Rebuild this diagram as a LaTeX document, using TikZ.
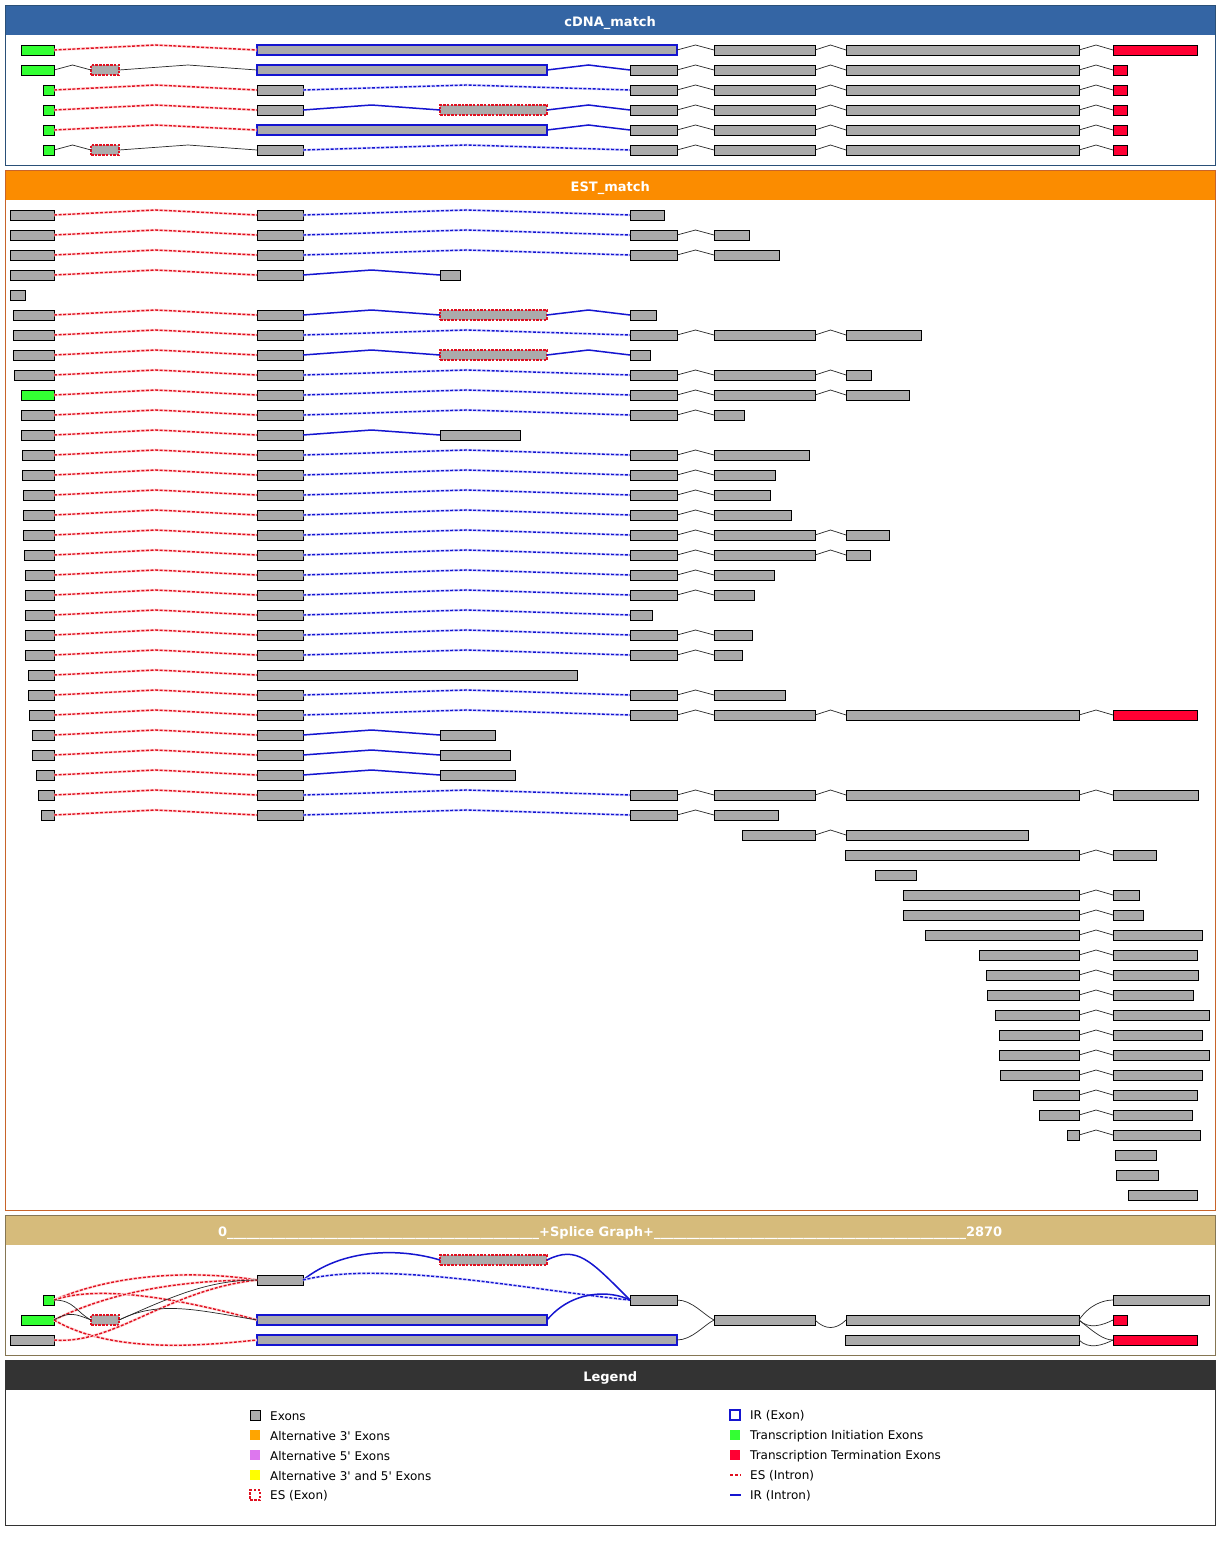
\documentclass[tikz,border=0pt]{standalone}
\usepackage{fontspec}
\setmainfont{DejaVu Sans}
\usetikzlibrary{calc}
\definecolor{exgray}{HTML}{ABABAB}
\definecolor{tigreen}{HTML}{33FF33}
\definecolor{ttred}{HTML}{FF0033}
\definecolor{irblue}{HTML}{1515D0}
\definecolor{esred}{HTML}{E01020}
\definecolor{cdnahd}{HTML}{3465A4}
\definecolor{cdnabd}{HTML}{2A5078}
\definecolor{esthd}{HTML}{FB8C00}
\definecolor{estbd}{HTML}{C8642A}
\definecolor{sghd}{HTML}{D6BB7B}
\definecolor{sgbd}{HTML}{857654}
\definecolor{lghd}{HTML}{333333}
\definecolor{altthree}{HTML}{FFA500}
\definecolor{altfive}{HTML}{DD77EE}
\definecolor{altboth}{HTML}{FFFF00}
\tikzset{
  exon/.style={rectangle, draw=black, fill=exgray, line width=0.9pt, inner sep=0pt, outer sep=0pt, minimum height=10pt, anchor=west},
  tie/.style={fill=tigreen},
  tte/.style={fill=ttred},
  irx/.style={draw=irblue, line width=1.6pt},
  esx/.style={draw=esred, line width=1.2pt, dash pattern=on 2.5pt off 1.2pt},
  esi/.style={draw=esred, line width=1.4pt, dash pattern=on 3pt off 1.6pt, preaction={draw=red!14, line width=2.6pt, solid}},
  ird/.style={draw=irblue, line width=1.4pt, dash pattern=on 3pt off 1.6pt, preaction={draw=blue!12, line width=2.6pt, solid}},
  iri/.style={draw=irblue, line width=1.5pt},
  nj/.style={draw=black!85, line width=0.7pt},
  hdr/.style={rectangle, anchor=north west, minimum width=1210pt, minimum height=30pt, inner sep=0pt, text height=12pt, text depth=0pt, text=white, font=\fontsize{13}{15}\selectfont\bfseries},
  lgtext/.style={anchor=west, inner sep=0pt, font=\fontsize{12}{14}\selectfont\addfontfeatures{Ligatures=TeXOff}},
  lgbox/.style={rectangle, inner sep=0pt, outer sep=0pt, minimum width=10pt, minimum height=10pt, anchor=west}
}
\newcommand\Exn[5][]{\node[exon,#1,minimum width={#4-#3}] (#2) at (#3,#5) {};}
\newcommand\Intr[3][]{\draw[#1] (#2.east) -- ($(#2.east)!0.5!(#3.west)+(0,-5)$) -- (#3.west);}
\newcommand\rAB[4][]{\Exn[#1]{#2a}{#4}{54}{#3}\Exn{#2b}{257}{303}{#3}\Intr[esi]{#2a}{#2b}}
\newcommand\rBD[3]{\Exn{#1d}{630}{#3}{#2}\Intr[ird]{#1b}{#1d}}
\newcommand\rDE[3]{\Exn{#1e}{714}{#3}{#2}\Intr[nj]{#1d}{#1e}}
\newcommand\rEF[3]{\Exn{#1f}{846}{#3}{#2}\Intr[nj]{#1e}{#1f}}
\newcommand\rFG[4][]{\Exn[#1]{#2g}{1113}{#4}{#3}\Intr[nj]{#2f}{#2g}}
\newcommand\rBC[4][]{\Exn[#1]{#2c}{440}{#4}{#3}\Intr[iri]{#2b}{#2c}}
\newcommand\rCD[3]{\Exn{#1d}{630}{#3}{#2}\Intr[iri]{#1c}{#1d}}
\newcommand\uss{\_\_\_\_\_\_\_\_\_\_}
\begin{document}
\begin{tikzpicture}[x=1pt,y=-1pt]
\useasboundingbox (0,0) rectangle (1220,1545);
\fill[white] (0,0) rectangle (1220,1545);
% ---------------- cDNA panel
\node[hdr, fill=cdnahd] (h1) at (5,5) {cDNA\_match};
\draw[cdnabd, line width=1pt] (5,5) rectangle (1215,165);
% row 1
\Exn[tie]{c1a}{21}{54}{50}\Exn[irx]{c1b}{257}{677}{50}\Intr[esi]{c1a}{c1b}
\Exn{c1e}{714}{815}{50}\Intr[nj]{c1b}{c1e}\rEF{c1}{50}{1079}\rFG[tte]{c1}{50}{1197}
% row 2
\Exn[tie]{c2a}{21}{54}{70}\Exn[esx]{c2x}{91}{119}{70}\Intr[nj]{c2a}{c2x}
\Exn[irx]{c2b}{257}{547}{70}\Intr[nj]{c2x}{c2b}
\Exn{c2d}{630}{677}{70}\Intr[iri]{c2b}{c2d}\rDE{c2}{70}{815}\rEF{c2}{70}{1079}\rFG[tte]{c2}{70}{1127}
% row 3
\rAB[tie]{c3}{90}{43}\rBD{c3}{90}{677}\rDE{c3}{90}{815}\rEF{c3}{90}{1079}\rFG[tte]{c3}{90}{1127}
% row 4
\rAB[tie]{c4}{110}{43}\rBC[esx]{c4}{110}{547}\rCD{c4}{110}{677}\rDE{c4}{110}{815}\rEF{c4}{110}{1079}\rFG[tte]{c4}{110}{1127}
% row 5
\Exn[tie]{c5a}{43}{54}{130}\Exn[irx]{c5b}{257}{547}{130}\Intr[esi]{c5a}{c5b}
\Exn{c5d}{630}{677}{130}\Intr[iri]{c5b}{c5d}\rDE{c5}{130}{815}\rEF{c5}{130}{1079}\rFG[tte]{c5}{130}{1127}
% row 6
\Exn[tie]{c6a}{43}{54}{150}\Exn[esx]{c6x}{91}{119}{150}\Intr[nj]{c6a}{c6x}
\Exn{c6b}{257}{303}{150}\Intr[nj]{c6x}{c6b}\rBD{c6}{150}{677}\rDE{c6}{150}{815}\rEF{c6}{150}{1079}\rFG[tte]{c6}{150}{1127}
% ---------------- EST panel
\node[hdr, fill=esthd] (h2) at (5,170) {EST\_match};
\draw[estbd, line width=1pt] (5,170) rectangle (1215,1210);
\rAB{t1}{215}{10}\rBD{t1}{215}{664}
\rAB{t2}{235}{10}\rBD{t2}{235}{677}\rDE{t2}{235}{749}
\rAB{t3}{255}{10}\rBD{t3}{255}{677}\rDE{t3}{255}{779}
\rAB{t4}{275}{10}\rBC{t4}{275}{460}
\Exn{t5a}{10}{25}{295}
\rAB{t6}{315}{13}\rBC[esx]{t6}{315}{547}\rCD{t6}{315}{656}
\rAB{t7}{335}{13}\rBD{t7}{335}{677}\rDE{t7}{335}{815}\rEF{t7}{335}{921}
\rAB{t8}{355}{13}\rBC[esx]{t8}{355}{547}\rCD{t8}{355}{650}
\rAB{t9}{375}{14}\rBD{t9}{375}{677}\rDE{t9}{375}{815}\rEF{t9}{375}{871}
\rAB[tie]{t10}{395}{21}\rBD{t10}{395}{677}\rDE{t10}{395}{815}\rEF{t10}{395}{909}
\rAB{t11}{415}{21}\rBD{t11}{415}{677}\rDE{t11}{415}{744}
\rAB{t12}{435}{21}\rBC{t12}{435}{520}
\rAB{t13}{455}{22}\rBD{t13}{455}{677}\rDE{t13}{455}{809}
\rAB{t14}{475}{22}\rBD{t14}{475}{677}\rDE{t14}{475}{775}
\rAB{t15}{495}{23}\rBD{t15}{495}{677}\rDE{t15}{495}{770}
\rAB{t16}{515}{23}\rBD{t16}{515}{677}\rDE{t16}{515}{791}
\rAB{t17}{535}{23}\rBD{t17}{535}{677}\rDE{t17}{535}{815}\rEF{t17}{535}{889}
\rAB{t18}{555}{24}\rBD{t18}{555}{677}\rDE{t18}{555}{815}\rEF{t18}{555}{870}
\rAB{t19}{575}{25}\rBD{t19}{575}{677}\rDE{t19}{575}{774}
\rAB{t20}{595}{25}\rBD{t20}{595}{677}\rDE{t20}{595}{754}
\rAB{t21}{615}{25}\rBD{t21}{615}{652}
\rAB{t22}{635}{25}\rBD{t22}{635}{677}\rDE{t22}{635}{752}
\rAB{t23}{655}{25}\rBD{t23}{655}{677}\rDE{t23}{655}{742}
\Exn{t24a}{28}{54}{675}\Exn{t24b}{257}{577}{675}\Intr[esi]{t24a}{t24b}
\rAB{t25}{695}{28}\rBD{t25}{695}{677}\rDE{t25}{695}{785}
\rAB{t26}{715}{29}\rBD{t26}{715}{677}\rDE{t26}{715}{815}\rEF{t26}{715}{1079}\rFG[tte]{t26}{715}{1197}
\rAB{t27}{735}{32}\rBC{t27}{735}{495}
\rAB{t28}{755}{32}\rBC{t28}{755}{510}
\rAB{t29}{775}{36}\rBC{t29}{775}{515}
\rAB{t30}{795}{38}\rBD{t30}{795}{677}\rDE{t30}{795}{815}\rEF{t30}{795}{1079}\rFG{t30}{795}{1198}
\rAB{t31}{815}{41}\rBD{t31}{815}{677}\rDE{t31}{815}{778}
\Exn{t32e}{742}{815}{835}\rEF{t32}{835}{1028}
\Exn{t33f}{845}{1079}{855}\rFG{t33}{855}{1156}
\Exn{t34f}{875}{916}{875}
\Exn{t35f}{903}{1079}{895}\rFG{t35}{895}{1139}
\Exn{t36f}{903}{1079}{915}\rFG{t36}{915}{1143}
\Exn{t37f}{925}{1079}{935}\rFG{t37}{935}{1202}
\Exn{t38f}{979}{1079}{955}\rFG{t38}{955}{1197}
\Exn{t39f}{986}{1079}{975}\rFG{t39}{975}{1198}
\Exn{t40f}{987}{1079}{995}\rFG{t40}{995}{1193}
\Exn{t41f}{995}{1079}{1015}\rFG{t41}{1015}{1209}
\Exn{t42f}{999}{1079}{1035}\rFG{t42}{1035}{1202}
\Exn{t43f}{999}{1079}{1055}\rFG{t43}{1055}{1209}
\Exn{t44f}{1000}{1079}{1075}\rFG{t44}{1075}{1202}
\Exn{t45f}{1033}{1079}{1095}\rFG{t45}{1095}{1197}
\Exn{t46f}{1039}{1079}{1115}\rFG{t46}{1115}{1192}
\Exn{t47f}{1067}{1079}{1135}\rFG{t47}{1135}{1200}
\Exn{t48g}{1115}{1156}{1155}
\Exn{t49g}{1116}{1158}{1175}
\Exn{t50g}{1128}{1197}{1195}
% ---------------- Splice graph panel
\node[hdr, fill=sghd] (h3) at (5,1215) {0\uss\uss\uss\uss\_\_\_\_\_\_\_\_+Splice Graph+\uss\uss\uss\uss\_\_\_\_\_\_\_\_2870};
\draw[sgbd, line width=1pt] (5,1215) rectangle (1215,1355);
\Exn[tie]{g1}{43}{54}{1300}
\Exn[tie]{g2}{21}{54}{1320}
\Exn{g3}{10}{54}{1340}
\Exn[esx]{g4}{91}{119}{1320}
\Exn{g5}{257}{303}{1280}
\Exn[irx]{g6}{257}{547}{1320}
\Exn[irx]{g7}{257}{677}{1340}
\Exn[esx]{g8}{440}{547}{1260}
\Exn{g9}{630}{677}{1300}
\Exn{g10}{714}{815}{1320}
\Exn{g11}{846}{1079}{1320}
\Exn{g12}{845}{1079}{1340}
\Exn{g13}{1113}{1209}{1300}
\Exn[tte]{g14}{1113}{1127}{1320}
\Exn[tte]{g15}{1113}{1197}{1340}
% red dashed (ES introns)
\draw[esi] (g1.east) .. controls +(70,-30) and +(-50,-8) .. (g5.west);
\draw[esi] (g1.east) .. controls +(40,-14) and +(-90,-25) .. (g6.west);
\draw[esi] (g2.east) .. controls +(60,-30) and +(-70,0) .. (g5.west);
\draw[esi] (g2.east) .. controls +(60,35) and +(-50,5) .. (g7.west);
\draw[esi] (g3.east) .. controls +(60,5) and +(-90,10) .. (g5.west);
% black junctions
\draw[nj] (g1.east) .. controls +(20,0) and +(-15,-8) .. (g4.west);
\draw[nj] (g2.east) .. controls +(15,-9) and +(-15,-6) .. (g4.west);
\draw[nj] (g4.east) .. controls +(50,-22) and +(-50,0) .. (g5.west);
\draw[nj] (g4.east) .. controls +(40,-20) and +(-60,-10) .. (g6.west);
% blue introns
\draw[iri] (g5.east) .. controls +(40,-32) and +(-40,-12) .. (g8.west);
\draw[ird] (g5.east) .. controls +(80,-20) and +(-100,-10) .. (g9.west);
\draw[iri] (g8.east) .. controls +(30,-15) and +(-40,-40) .. (g9.west);
\draw[iri] (g6.east) .. controls +(25,-30) and +(-20,-10) .. (g9.west);
% right junctions
\draw[nj] (g9.east) .. controls +(15,0) and +(-10,-5) .. (g10.west);
\draw[nj] (g7.east) .. controls +(15,0) and +(-10,5) .. (g10.west);
\draw[nj] (g10.east) .. controls +(10,10) and +(-10,10) .. (g11.west);
\draw[nj] (g11.east) .. controls +(10,-15) and +(-10,0) .. (g13.west);
\draw[nj] (g11.east) .. controls +(10,10) and +(-10,5) .. (g14.west);
\draw[nj] (g11.east) .. controls +(15,12) and +(-10,0) .. (g15.west);
\draw[nj] (g12.east) .. controls +(10,10) and +(-10,5) .. (g15.west);
% ---------------- Legend panel
\node[hdr, fill=lghd] (h4) at (5,1360) {Legend};
\draw[lghd, line width=1pt] (5,1360) rectangle (1215,1525);
\node[lgbox, draw=black, fill=exgray, line width=0.9pt] (k1) at (250,1415) {};
\node[lgbox, fill=altthree] (k2) at (250,1435) {};
\node[lgbox, fill=altfive] (k3) at (250,1455) {};
\node[lgbox, fill=altboth] (k4) at (250,1475) {};
\node[lgbox, draw=esred, line width=1.2pt, dash pattern=on 2.5pt off 1.5pt] (k5) at (250,1495) {};
\node[lgtext] (l1) at (270,1416) {Exons};
\node[lgtext] (l2) at (270,1436) {Alternative 3' Exons};
\node[lgtext] (l3) at (270,1456) {Alternative 5' Exons};
\node[lgtext] (l4) at (270,1476) {Alternative 3' and 5' Exons};
\node[lgtext] (l5) at (270,1496) {ES (Exon)};
\node[lgbox, draw=irblue, line width=1.6pt] (k6) at (730,1415) {};
\node[lgbox, fill=tigreen] (k7) at (730,1435) {};
\node[lgbox, fill=ttred] (k8) at (730,1455) {};
\coordinate (k9a) at (730,1475); \coordinate (k9b) at (741,1475);
\draw[draw=esred, line width=1.4pt, dash pattern=on 3pt off 2pt] (k9a) -- (k9b);
\coordinate (k10a) at (730,1495); \coordinate (k10b) at (741,1495);
\draw[iri] (k10a) -- (k10b);
\node[lgtext] (l6) at (750,1416) {IR (Exon)};
\node[lgtext] (l7) at (750,1436) {Transcription Initiation Exons};
\node[lgtext] (l8) at (750,1456) {Transcription Termination Exons};
\node[lgtext] (l9) at (750,1476) {ES (Intron)};
\node[lgtext] (l10) at (750,1496) {IR (Intron)};
\end{tikzpicture}
\end{document}
